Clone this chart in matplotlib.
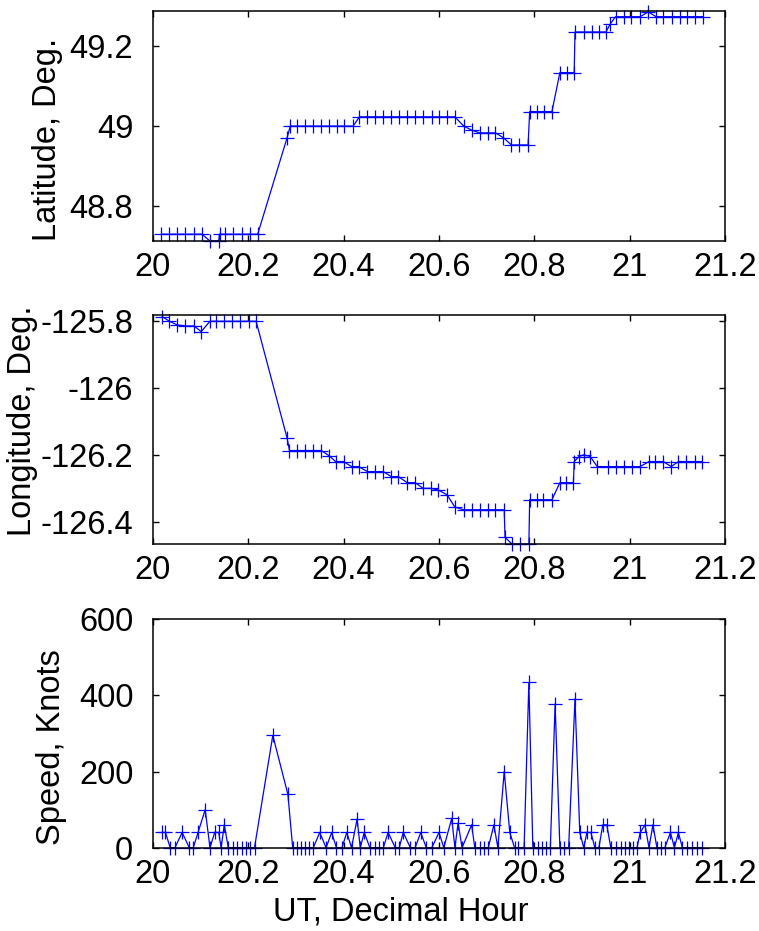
import numpy as np
import matplotlib
matplotlib.use('Agg')
import matplotlib.pyplot as plt

plt.rcParams['font.family'] = ['Liberation Sans', 'DejaVu Sans']

# track fixes, time in minutes after 20:00 UT
lat_min = [1.1, 2.1, 3.1, 4.1, 5.2, 6.2, 7.2, 8.3, 8.4, 9.1, 10.1, 11.2, 12.2, 13.2,
           16.9, 17.3, 18.2, 19.2, 20.2, 21.2, 22.2, 23.2, 24.1, 25.2,
           26.0, 27.0, 28.0, 29.0, 30.0, 31.0, 32.0, 33.0, 34.0, 35.1, 36.0, 37.0, 38.0,
           39.1, 40.1, 41.1, 42.1, 43.1, 44.1, 45.1, 46.1, 47.2,
           47.4, 48.3, 49.2, 50.2, 51.2, 52.1, 53.0,
           53.1, 54.2, 55.2, 56.1, 57.0, 57.5, 58.2, 59.2, 60.2, 61.3, 62.3,
           63.3, 64.2, 65.3, 66.3, 67.2, 68.2, 69.2]
lat_deg = [48.731, 48.731, 48.731, 48.731, 48.731, 48.731, 48.714, 48.714, 48.731,
           48.731, 48.731, 48.731, 48.731, 48.731,
           48.971, 49.000, 49.000, 49.000, 49.000, 49.000, 49.000, 49.000, 49.000, 49.000,
           49.023, 49.023, 49.023, 49.023, 49.023, 49.023, 49.023, 49.023, 49.023,
           49.023, 49.023, 49.023, 49.023,
           49.000, 48.990, 48.983, 48.983, 48.983, 48.971, 48.953, 48.953, 48.953,
           49.036, 49.036, 49.036, 49.036, 49.133, 49.133, 49.133,
           49.234, 49.234, 49.234, 49.234, 49.234, 49.253, 49.272, 49.272, 49.272,
           49.272, 49.284,
           49.272, 49.272, 49.272, 49.272, 49.272, 49.272, 49.272]

lon_min = [1.2, 2.1, 3.1, 4.1, 5.2, 6.1, 7.2, 8.0, 9.0, 10.0, 11.0, 12.1, 13.0,
           16.9, 17.2, 18.2, 19.2, 20.2, 21.2, 22.2, 23.0, 24.0, 25.0, 25.9,
           27.0, 28.0, 29.0, 30.0, 30.9, 32.0, 33.0, 34.0, 35.0, 35.9, 37.0, 38.0,
           39.1, 40.1, 41.2, 42.1, 43.1, 44.2, 44.3, 45.2, 46.2, 47.3,
           47.4, 48.3, 49.1, 50.2, 51.2, 52.0, 52.9,
           53.0, 53.6, 54.2, 55.0, 55.9, 57.2, 58.2, 59.3, 60.3, 61.3,
           62.4, 63.2, 64.2, 65.2, 66.1, 67.1, 68.2, 69.1]
lon_deg = [-125.786, -125.800, -125.811, -125.814, -125.814, -125.831, -125.800,
           -125.800, -125.800, -125.800, -125.800, -125.800, -125.800,
           -126.149, -126.186, -126.186, -126.186, -126.186, -126.186, -126.202,
           -126.219, -126.219, -126.234, -126.234,
           -126.249, -126.249, -126.249, -126.264, -126.264, -126.282, -126.282,
           -126.299, -126.299, -126.304, -126.318, -126.355,
           -126.363, -126.363, -126.363, -126.363, -126.363, -126.363, -126.445,
           -126.466, -126.466, -126.466,
           -126.333, -126.333, -126.333, -126.333, -126.282, -126.282, -126.282,
           -126.219, -126.204, -126.199, -126.204, -126.234, -126.234, -126.234,
           -126.234, -126.234, -126.234,
           -126.219, -126.219, -126.219, -126.234, -126.219, -126.219, -126.219,
           -126.219]

spd_min = [1.2, 1.6, 2.2, 2.8, 3.7, 4.6, 5.1, 5.7, 6.6, 7.2, 7.8, 8.3, 8.6, 9.0,
           9.5, 10.1, 10.6, 11.2, 11.7, 12.2, 12.8, 15.1, 17.0, 17.6, 18.1, 18.6,
           19.2, 19.7, 20.2, 21.0, 21.8, 22.5, 23.1, 23.8, 24.4, 25.0, 25.7, 26.1,
           26.6, 27.3, 27.9, 28.4, 29.0, 29.6, 30.5, 31.0, 31.5, 32.4, 33.0, 33.7,
           34.4, 35.1, 36.0, 36.6, 37.6, 38.0, 38.4, 38.9, 40.1, 40.5, 41.1, 41.6,
           42.2, 42.9, 43.4, 44.2, 44.9, 45.5, 45.9, 46.7, 47.3, 47.8, 48.4, 48.9,
           49.4, 50.0, 50.6, 51.2, 51.7, 52.3, 53.1, 53.7, 54.2, 54.6, 55.1, 55.6,
           56.1, 56.6, 57.1, 57.6, 58.2, 58.9, 59.4, 59.9, 60.4, 60.9, 61.3, 61.9,
           62.4, 62.9, 63.4, 63.9, 64.4, 65.1, 65.6, 66.1, 66.6, 67.2, 67.8, 68.4,
           69.1]
spd_kt = [40, 40, 0, 0, 40, 0, 0, 40, 100, 0, 40, 40, 0, 60,
          0, 0, 0, 0, 0, 0, 0, 295, 140, 0, 0, 0,
          0, 0, 0, 40, 0, 40, 0, 0, 40, 0, 75, 0,
          40, 0, 0, 0, 0, 40, 0, 0, 40, 0, 0, 40,
          0, 0, 40, 0, 77, 0, 65, 0, 60, 0, 0, 0,
          0, 60, 0, 200, 40, 0, 0, 0, 434, 0, 0, 0,
          0, 0, 378, 0, 0, 0, 391, 40, 0, 40, 40, 0,
          0, 60, 60, 0, 0, 0, 0, 0, 0, 0, 40, 60,
          0, 60, 0, 0, 0, 40, 0, 40, 0, 0, 0, 0,
          0]

x_ticks = [20, 20.2, 20.4, 20.6, 20.8, 21, 21.2]
x_ticklabels = ['20', '20.2', '20.4', '20.6', '20.8', '21', '21.2']


def hours(minutes):
    return 20 + np.asarray(minutes) / 60.0


FS = 23.5
fig = plt.figure(figsize=(7.59, 9.31), dpi=100)
rects = [[0.2012, 0.7411, 0.7544, 0.2470],
         [0.2012, 0.4154, 0.7544, 0.2460],
         [0.2012, 0.0895, 0.7544, 0.2453]]
axes = [fig.add_axes(r) for r in rects]

series = [(lat_min, lat_deg), (lon_min, lon_deg), (spd_min, spd_kt)]
for ax, (m, v) in zip(axes, series):
    ax.plot(hours(m), v, '-', color='b', lw=0.9, marker='+', ms=10,
            mew=0.9, clip_on=False)
    ax.set_xlim(20, 21.2)
    ax.set_xticks(x_ticks)
    ax.set_xticklabels(x_ticklabels)
    ax.tick_params(direction='in', top=True, right=True, length=4, width=1,
                   labelsize=FS)
    ax.tick_params(axis='x', pad=8)
    ax.tick_params(axis='y', pad=14)
    for s in ax.spines.values():
        s.set_linewidth(1.1)

axes[0].set_ylim(48.714, 49.286)
axes[0].set_yticks([48.8, 49.0, 49.2])
axes[0].set_yticklabels(['48.8', '49', '49.2'])
axes[0].set_ylabel('Latitude, Deg.', fontsize=FS)

axes[1].set_ylim(-126.466, -125.782)
axes[1].set_yticks([-126.4, -126.2, -126.0, -125.8])
axes[1].set_yticklabels(['-126.4', '-126.2', '-126', '-125.8'])
axes[1].set_ylabel('Longitude, Deg.', fontsize=FS)

axes[2].set_ylim(0, 600)
axes[2].set_yticks([0, 200, 400, 600])
axes[2].set_ylabel('Speed, Knots', fontsize=FS)
axes[2].set_xlabel('UT, Decimal Hour', fontsize=FS)

# label placement (axes coords, label centre)
for ax, xc, yc in zip(axes, [-0.183, -0.228, -0.176], [0.44, 0.54, 0.44]):
    ax.yaxis.label.set_verticalalignment('center')
    ax.yaxis.set_label_coords(xc, yc)
axes[2].xaxis.label.set_verticalalignment('center')
axes[2].xaxis.set_label_coords(0.434, -0.282)

fig.savefig('out.png', dpi=100)
